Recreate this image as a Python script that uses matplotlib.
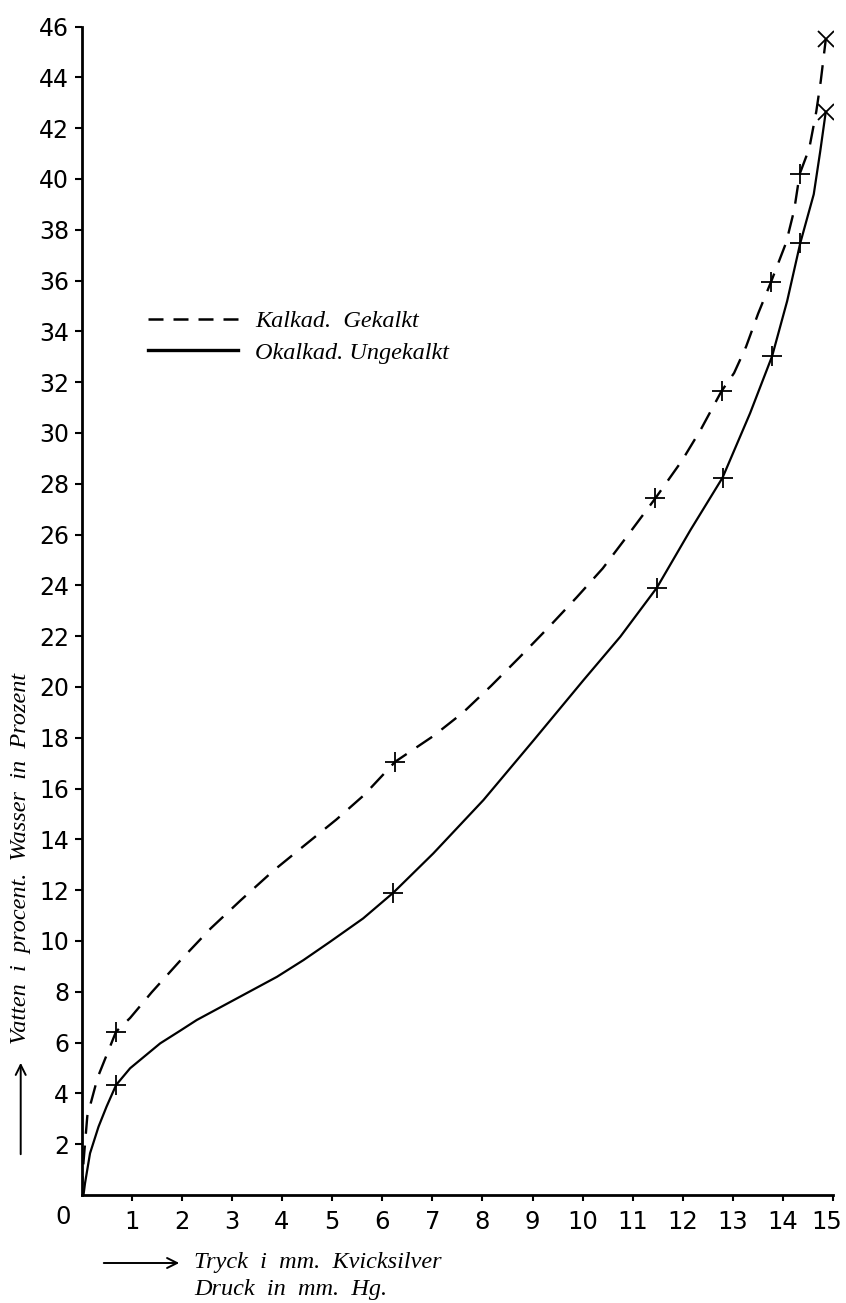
import matplotlib
matplotlib.use("Agg")
import matplotlib.pyplot as plt
import matplotlib.transforms as mtransforms
from matplotlib.lines import Line2D

# ── data ─────────────────────────────────────────────────────────────────────
# measured points (markers)
kalk_p = [0.69, 6.26, 11.45, 12.77, 13.76, 14.33]
kalk_w = [6.43, 17.06, 27.43, 31.65, 35.96, 40.2]
kalk_top_p = [14.85]
kalk_top_w = [45.5]

okalk_p = [0.69, 6.22, 11.48, 12.79, 13.78, 14.34]
okalk_w = [4.33, 11.9, 23.91, 28.24, 33.03, 37.47]
okalk_top_p = [14.85]
okalk_top_w = [42.65]

# hand-drawn curves
kalk_curve_p = [0.0, 0.04, 0.116, 0.323, 0.689, 0.97, 1.40, 1.98, 2.58, 3.18,
                3.83, 4.44, 5.09, 5.64, 6.26, 7.02, 7.61, 8.17, 8.74, 9.32,
                9.88, 10.40, 10.88, 11.45, 11.98, 12.36, 12.77, 13.02, 13.26,
                13.5, 13.76, 14.06, 14.22, 14.33, 14.52, 14.66, 14.75, 14.85]
kalk_curve_w = [0.0, 1.3, 3.11, 4.63, 6.43, 6.97, 7.98, 9.25, 10.5, 11.61,
                12.77, 13.75, 14.79, 15.75, 17.06, 18.07, 18.99, 20.04, 21.17,
                22.35, 23.53, 24.67, 25.92, 27.43, 28.91, 30.15, 31.65, 32.36,
                33.4, 34.7, 35.96, 37.5, 38.78, 40.2, 41.2, 42.65, 43.86, 45.5]

okalk_curve_p = [0.04, 0.07, 0.17, 0.34, 0.50, 0.69, 0.97, 1.57, 1.97, 2.30,
                 3.10, 3.90, 4.43, 4.96, 5.62, 6.22, 7.02, 8.02, 9.02, 10.02,
                 10.75, 11.48, 12.15, 12.79, 13.34, 13.78, 14.08, 14.34, 14.61,
                 14.74, 14.85]
okalk_curve_w = [0.0, 0.46, 1.64, 2.69, 3.48, 4.33, 4.99, 5.97, 6.47, 6.89,
                 7.74, 8.59, 9.25, 9.97, 10.89, 11.9, 13.45, 15.55, 17.9,
                 20.28, 21.98, 23.91, 26.18, 28.24, 30.78, 33.03, 35.2, 37.47,
                 39.4, 41.1, 42.65]

x_ticks = list(range(1, 16))
y_ticks = list(range(2, 47, 2))

legend_labels = ["Kalkad.  Gekalkt", "Okalkad. Ungekalkt"]
ylabel_text = "Vatten  i  procent.  Wasser  in  Prozent"
xlabel_lines = ["Tryck  i  mm.  Kvicksilver", "Druck  in  mm.  Hg."]

# ── layout helpers (pixel positions in the 846x1303 canvas) ──────────────────
W, H = 846, 1303


def fx(px):
    return px / W


def fy(py):
    return 1 - py / H


label_font = dict(family="Liberation Serif", style="italic", size=17.5)
tick_font = "DejaVu Sans"

fig = plt.figure(figsize=(W / 100, H / 100), dpi=100)
ax = fig.add_axes([fx(81.5), fy(1195), fx(833.3) - fx(81.5), fy(26.6) - fy(1195)])

# curves
ax.plot(kalk_curve_p, kalk_curve_w, color="black", lw=1.7, dashes=(8, 5))
ax.plot(okalk_curve_p, okalk_curve_w, color="black", lw=1.6)

# measured points
mk = dict(color="black", linestyle="none", mew=1.3)
ax.plot(kalk_p, kalk_w, marker="+", ms=14, **mk)
ax.plot(okalk_p, okalk_w, marker="+", ms=14, **mk)
ax.plot(kalk_top_p, kalk_top_w, marker="x", ms=11, **mk)
ax.plot(okalk_top_p, okalk_top_w, marker="x", ms=11, **mk)

# axes styling
ax.set_xlim(0, 15)
ax.set_ylim(0, 46)
for side in ("top", "right"):
    ax.spines[side].set_visible(False)
for side in ("left", "bottom"):
    ax.spines[side].set_linewidth(2.0)

ax.set_xticks(x_ticks)
ax.set_yticks(y_ticks)
ax.tick_params(axis="x", direction="out", length=4, width=1.5, pad=7,
               labelsize=17.5, labelfontfamily=tick_font)
ax.tick_params(axis="y", direction="out", length=5, width=1.5, pad=4,
               labelsize=17, labelfontfamily=tick_font)
# last x label sits at the page edge in the original; nudge it inwards
last = ax.get_xticklabels()[-1]
last.set_transform(last.get_transform() +
                   mtransforms.ScaledTranslation(-5 / 72, 0, fig.dpi_scale_trans))
ax.annotate("0", xy=(0, 0), xytext=(-13, -15.6), textcoords="offset points",
            ha="center", va="center", fontsize=17.5, family=tick_font)

# legend
handles = [
    Line2D([], [], color="black", lw=1.8, dashes=(6, 4)),
    Line2D([], [], color="black", lw=2.4),
]
ax.legend(handles, legend_labels, loc="upper left",
          bbox_to_anchor=(fx(148), fy(310)), bbox_transform=fig.transFigure,
          frameon=False, borderpad=0, borderaxespad=0,
          handlelength=3.7, handletextpad=0.7, labelspacing=0.4,
          prop=dict(family="Liberation Serif", style="italic", size=17.5))

# y axis caption with arrow
fig.text(fx(26), fy(1044), ylabel_text, rotation=90, rotation_mode="anchor",
         ha="left", va="baseline", **label_font)
ax.annotate("", xy=(fx(20.7), fy(1060)), xycoords="figure fraction",
            xytext=(fx(20.7), fy(1157)), textcoords="figure fraction",
            arrowprops=dict(arrowstyle="->", color="black", lw=1.4,
                            mutation_scale=18))

# x axis caption with arrow
fig.text(fx(194), fy(1268), xlabel_lines[0], ha="left", va="baseline",
         **label_font)
fig.text(fx(194), fy(1295), xlabel_lines[1], ha="left", va="baseline",
         **label_font)
ax.annotate("", xy=(fx(182), fy(1263)), xycoords="figure fraction",
            xytext=(fx(101), fy(1263)), textcoords="figure fraction",
            arrowprops=dict(arrowstyle="->", color="black", lw=1.4,
                            mutation_scale=18))

fig.savefig("out.png", dpi=100)
plt.close(fig)
